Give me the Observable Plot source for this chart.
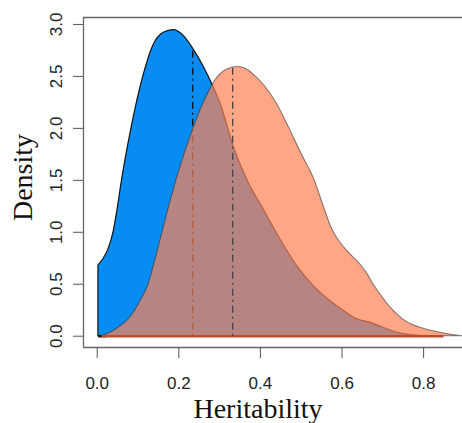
<!DOCTYPE html>
<html>
<head>
<meta charset="utf-8">
<script src="https://cdn.jsdelivr.net/npm/d3@7"></script>
<script src="https://cdn.jsdelivr.net/npm/@observablehq/plot@0.6"></script>
<style>
  html, body { margin: 0; padding: 0; background: white; overflow: hidden; }
</style>
</head>
<body>
<div id="chart"></div>
<script>
// Blue density (first distribution)
const blueX = [0.003, 0.015, 0.028, 0.040, 0.050, 0.060, 0.084, 0.113, 0.138, 0.163, 0.187, 0.212, 0.236, 0.260, 0.286, 0.302, 0.335, 0.368, 0.408, 0.449, 0.489, 0.530, 0.571, 0.604, 0.636, 0.669, 0.700, 0.734, 0.767, 0.800];
const blueY = [0.68, 0.74, 0.84, 1.00, 1.22, 1.48, 2.00, 2.50, 2.80, 2.92, 2.945, 2.89, 2.76, 2.60, 2.39, 2.24, 1.82, 1.50, 1.22, 0.93, 0.68, 0.485, 0.34, 0.244, 0.164, 0.13, 0.084, 0.036, 0.01, 0.0];

// Salmon density (second distribution)
const salmonX = [0.012, 0.048, 0.081, 0.105, 0.126, 0.143, 0.160, 0.194, 0.236, 0.265, 0.297, 0.320, 0.346, 0.370, 0.388, 0.410, 0.440, 0.471, 0.500, 0.533, 0.555, 0.577, 0.600, 0.625, 0.645, 0.662, 0.677, 0.700, 0.725, 0.750, 0.775, 0.800, 0.830, 0.860, 0.881, 0.895];
const salmonY = [0.0, 0.07, 0.18, 0.33, 0.50, 0.74, 1.00, 1.50, 2.00, 2.28, 2.50, 2.57, 2.59, 2.56, 2.50, 2.41, 2.24, 2.00, 1.76, 1.50, 1.25, 1.02, 0.88, 0.77, 0.69, 0.60, 0.50, 0.37, 0.25, 0.16, 0.105, 0.072, 0.042, 0.018, 0.006, 0.0];

// Central values (dashed lines) and their heights
const meanX = [0.234, 0.332];
const meanTop = [2.76, 2.58];

// Axis ticks and labels
const xTicks = [0, 0.2, 0.4, 0.6, 0.8];
const yTicks = [0, 0.5, 1.0, 1.5, 2.0, 2.5, 3.0];
const xLabel = "Heritability";
const yLabel = "Density";

const xDomain = [-0.0336, 0.8953];
const yDomain = [-0.1088, 3.067];

const blue = blueX.map((x, i) => ({x, y: blueY[i]}));
const salmon = salmonX.map((x, i) => ({x, y: salmonY[i]}));

const sans = "'Liberation Sans', Arial, Helvetica, sans-serif";
const serif = "'Liberation Serif', 'Times New Roman', serif";

const chart = Plot.plot({
  width: 462,
  height: 423,
  marginLeft: 83,
  marginRight: 0,
  marginTop: 17,
  marginBottom: 76,
  x: {domain: xDomain},
  y: {domain: yDomain},
  style: {fontFamily: sans, fontSize: "17px", background: "white", overflow: "visible"},
  marks: [
    Plot.areaY(blue, {x: "x", y: "y", curve: "monotone-x", fill: "#078cf3", stroke: "#111", strokeWidth: 1.2}),
    Plot.ruleY([0], {x1: blueX[0], x2: salmonX[0] + 0.01, stroke: "#111", strokeWidth: 2.5}),
    Plot.ruleX([0], {x: meanX[0], y1: 0, y2: meanTop[0], stroke: "#111", strokeWidth: 1.3, strokeDasharray: "2,4,7,4"}),
    Plot.areaY(salmon, {x: "x", y: "y", curve: "monotone-x", fill: "rgb(255,128,82)", fillOpacity: 0.7, stroke: "#333", strokeOpacity: 0.6, strokeWidth: 1.1}),
    Plot.ruleY([0], {x1: salmonX[0], x2: 0.85, stroke: "#bf4d2c", strokeWidth: 2.5}),
    Plot.ruleX([0], {x: meanX[1], y1: 0, y2: meanTop[1], stroke: "#444", strokeWidth: 1.3, strokeDasharray: "2,4,7,4"}),
    // box (top, left, bottom)
    Plot.ruleY([yDomain[1]], {stroke: "#666", strokeWidth: 1.3}),
    Plot.ruleY([yDomain[0]], {stroke: "#666", strokeWidth: 1.3}),
    Plot.ruleX([xDomain[0]], {stroke: "#666", strokeWidth: 1.3}),
    Plot.axisX({ticks: xTicks, tickSize: 11, tickPadding: 18, tickFormat: d => d.toFixed(1), label: null, stroke: "#555", fill: "#222", fontSize: 17}),
    Plot.axisY({ticks: yTicks, tickSize: 10, tickFormat: () => "", label: null, stroke: "#555"}),
    Plot.text(yTicks, {y: d => d, text: d => d.toFixed(1), frameAnchor: "left", dx: -27, rotate: -90, textAnchor: "middle", lineAnchor: "middle", fontSize: 17, fill: "#222"}),
    Plot.text([yLabel], {frameAnchor: "left", dx: -60, dy: -5, rotate: -90, textAnchor: "middle", lineAnchor: "middle", fontFamily: serif, fontSize: 28, fill: "#111"}),
    Plot.text([xLabel], {frameAnchor: "bottom", dx: -15, dy: 62, textAnchor: "middle", lineAnchor: "middle", fontFamily: serif, fontSize: 28, fill: "#111"})
  ]
});
document.getElementById("chart").appendChild(chart);
</script>
</body>
</html>
